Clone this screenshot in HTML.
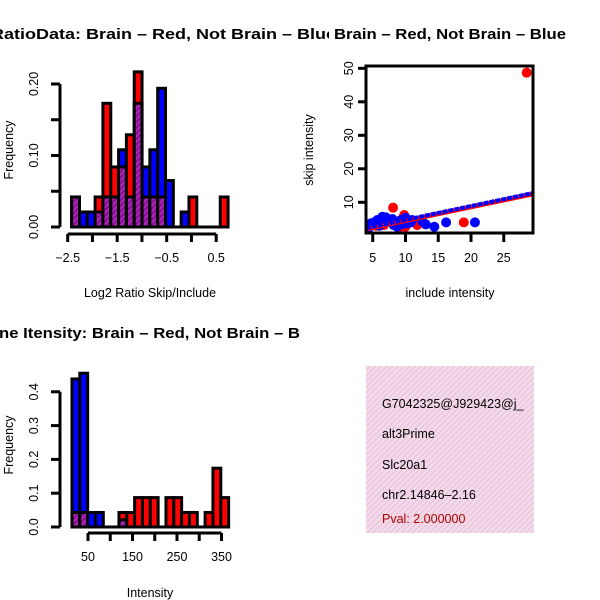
<!DOCTYPE html>
<html><head><meta charset="utf-8"><style>
html,body{margin:0;padding:0;background:#fff;}
svg{display:block;font-family:"Liberation Sans",Arial,sans-serif;}
</style></head><body>
<svg id="s" width="600" height="600" viewBox="0 0 600 600" xmlns="http://www.w3.org/2000/svg">
<defs>
<pattern id="hatch" width="4" height="4" patternUnits="userSpaceOnUse" patternTransform="rotate(45)">
<rect width="4" height="4" fill="#8b10a0"/><rect width="1.5" height="4" fill="#b030b0"/>
</pattern>
<pattern id="pinkhatch" width="4" height="4" patternUnits="userSpaceOnUse" patternTransform="rotate(45)">
<rect width="4" height="4" fill="#f7d6f0"/><rect width="1" height="4" fill="#dcc9c4"/>
</pattern>
<clipPath id="clipL"><rect x="0" y="0" width="329" height="600"/></clipPath>
<clipPath id="clipBox"><rect x="366" y="66" width="167" height="167"/></clipPath>
</defs>
<g id="tl"></g>
<g id="tr"></g>
<g id="bl"></g>
<g>
<rect x="366" y="366" width="168" height="167" fill="url(#pinkhatch)"/>
<g font-size="12.5">
<text x="382" y="408">G7042325@J929423@j_</text>
<text x="382" y="438">alt3Prime</text>
<text x="382" y="469">Slc20a1</text>
<text x="382" y="499">chr2.14846–2.16</text>
<text x="382" y="523" fill="#b00000">Pval: 2.000000</text>
</g>
</g>
</svg>
<script>
// ---- data: ratio histogram (20 bins) ----
const ratioBinStart = -2.42;
const ratioBinWidth = 0.158;
const ratioRed  = [0.042,0,0,0.042,0.173,0.084,0.084,0.129,0.217,0.042,0.042,0.042,0,0,0,0.042,0,0,0,0.042];
const ratioBlue = [0.042,0.021,0.021,0.021,0.042,0.042,0.108,0.042,0.173,0.084,0.108,0.194,0.065,0,0.021,0,0,0,0,0];
const ratioXTicks = [-2.5,-2.0,-1.5,-1.0,-0.5,0.0,0.5];
const ratioXLabels = ["-2.5","","-1.5","","-0.5","","0.5"];
const ratioYTicks = [0,0.05,0.10,0.15,0.20];
const ratioYLabels = ["0.00","","0.10","","0.20"];
// ---- data: intensity histogram (20 bins) ----
const intBinStart = 14;
const intBinWidth = 17.6;
const intRed  = [0.043,0.043,0,0,0,0,0.043,0.043,0.087,0.087,0.087,0,0.087,0.087,0.043,0.043,0,0.043,0.174,0.087];
const intBlue = [0.438,0.455,0.043,0.043,0,0,0.021,0,0,0,0,0,0,0,0,0,0,0,0,0];
const intXTicks = [50,100,150,200,250,300,350];
const intXLabels = ["50","","150","","250","","350"];
const intYTicks = [0,0.1,0.2,0.3,0.4];
const intYLabels = ["0.0","0.1","0.2","0.3","0.4"];
// ---- data: scatter ----
const redX = [28.5,8.1,18.9,11.8,9.8,10.0,6.7,9.0,7.2,5.5];
const redY = [48.7,8.4,4.0,3.2,6.2,2.7,3.2,2.4,5.0,3.0];
const blueX = [20.6,16.2,14.4,13.1,4.7,4.9,6.5,6.5,7.5,8.2,8.7,10.0,10.3,11.0,9.3,5.7,4.4,12.6,6.0,7.0,8.0,9.5,10.8,5.2];
const blueY = [4.0,4.0,2.7,3.4,3.7,3.2,5.7,3.7,4.7,3.2,2.7,5.4,3.7,4.7,4.7,4.7,2.4,4.2,3.0,5.5,5.0,3.5,4.0,4.0];
const lineX = [4.0,29.3];
const lineY = [2.3,12.7];
const scXTicks = [5,10,15,20,25];
const scYTicks = [10,20,30,40,50];

const NS="http://www.w3.org/2000/svg";
function mk(parent,tag,attrs){const e=document.createElementNS(NS,tag);for(const k in attrs)e.setAttribute(k,attrs[k]);parent.appendChild(e);return e;}

function histogram(g, o){
  const sx=v=>o.x0+(v-o.d0)*o.kx, sy=v=>o.y0-v*o.ky;
  for(let i=0;i<o.red.length;i++){
    const a=o.bs+i*o.bw, xl=sx(a), xr=sx(a+o.bw);
    const r=o.red[i], b=o.blue[i], hi=Math.max(r,b), lo=Math.min(r,b);
    if(hi<=0){continue;}
    const col = r>=b ? "#ff0000" : "#0000ff";
    const bar=mk(g,"rect",{x:xl,y:sy(hi),width:xr-xl,height:sy(0)-sy(hi),fill:col,stroke:"#000","stroke-width":3});
    
    
    if(lo>0){
      const ov=mk(g,"rect",{x:xl,y:sy(lo),width:xr-xl,height:sy(0)-sy(lo),fill:"url(#hatch)",stroke:"#000","stroke-width":3});
      
      
    }
  }
  mk(g,"line",{x1:sx(o.bs),x2:sx(o.bs+o.red.length*o.bw),y1:sy(0),y2:sy(0),stroke:"#000","stroke-width":3});
  const xa=mk(g,"g",{});
  
  
  mk(xa,"line",{x1:sx(o.xt[0]),x2:sx(o.xt[o.xt.length-1]),y1:o.axY,y2:o.axY,stroke:"#000","stroke-width":3});
  o.xt.forEach((t,i)=>{
    mk(xa,"line",{x1:sx(t),x2:sx(t),y1:o.axY,y2:o.axY+8,stroke:"#000","stroke-width":3});
    if(o.xl[i]){const tx=mk(xa,"text",{x:sx(t),y:o.axY+28,"text-anchor":"middle","font-size":12.5});tx.textContent=o.xl[i].replace("-","\u2212");}
  });
  const ya=mk(g,"g",{});
  
  
  mk(ya,"line",{x1:o.axX,x2:o.axX,y1:sy(o.yt[0]),y2:sy(o.yt[o.yt.length-1]),stroke:"#000","stroke-width":3});
  o.yt.forEach((t,i)=>{
    mk(ya,"line",{x1:o.axX,x2:o.axX-9,y1:sy(t),y2:sy(t),stroke:"#000","stroke-width":3});
    if(o.yl[i]){const tx=mk(ya,"text",{x:0,y:0,"text-anchor":"middle","font-size":12.5,transform:`translate(${o.axX-22},${sy(t)}) rotate(-90)`});tx.textContent=o.yl[i];}
  });
}

const tl=document.getElementById('tl');
histogram(tl,{x0:67.7,d0:-2.5,kx:49.5,y0:227,ky:715,red:ratioRed,blue:ratioBlue,bs:ratioBinStart,bw:ratioBinWidth,xt:ratioXTicks,xl:ratioXLabels,yt:ratioYTicks,yl:ratioYLabels,axY:234,axX:60});
const bl=document.getElementById('bl');
histogram(bl,{x0:88,d0:50,kx:0.445,y0:527,ky:338,red:intRed,blue:intBlue,bs:intBinStart,bw:intBinWidth,xt:intXTicks,xl:intXLabels,yt:intYTicks,yl:intYLabels,axY:533,axX:60});

const tr=document.getElementById('tr');
const px=v=>340+v*6.55, py=v=>235.8-v*3.35;
const pg=mk(tr,"g",{"clip-path":"url(#clipBox)"});
redX.forEach((x,i)=>{const c=mk(pg,"circle",{cx:px(x),cy:py(redY[i]),r:5,fill:"#ff0000"});
  
  });
blueX.forEach((x,i)=>{const c=mk(pg,"circle",{cx:px(x),cy:py(blueY[i]),r:5,fill:"#0000ff"});
  
  });
const rl=mk(pg,"line",{x1:px(lineX[0]),y1:py(lineY[0])+1,x2:px(lineX[1]),y2:py(lineY[1])+1,stroke:"#ff0000","stroke-width":4.5});


const bln=mk(pg,"line",{x1:px(lineX[0]),y1:py(lineY[0]),x2:px(lineX[1]),y2:py(lineY[1]),stroke:"#0000ff","stroke-width":4,"stroke-dasharray":"5 1"});


const box=mk(tr,"rect",{x:366,y:66,width:167,height:167,fill:"none",stroke:"#000","stroke-width":3});


scXTicks.forEach(t=>{mk(tr,"line",{x1:px(t),x2:px(t),y1:233,y2:242,stroke:"#000","stroke-width":3});
  const tx=mk(tr,"text",{x:px(t),y:262,"text-anchor":"middle","font-size":12.5});tx.textContent=t;});
scYTicks.forEach(t=>{mk(tr,"line",{x1:366,x2:358,y1:py(t),y2:py(t),stroke:"#000","stroke-width":3});
  const tx=mk(tr,"text",{x:0,y:0,"text-anchor":"middle","font-size":12.5,transform:`translate(353,${py(t)}) rotate(-90)`});tx.textContent=t;});
</script>
<svg width="600" height="600" style="position:absolute;left:0;top:0" xmlns="http://www.w3.org/2000/svg">
<g font-weight="bold" font-size="15">
<g clip-path="url(#clipL)"><text x="-9" y="39" textLength="345" lengthAdjust="spacingAndGlyphs">RatioData: Brain – Red, Not Brain – Blue</text></g>
<text x="334" y="39" textLength="232" lengthAdjust="spacingAndGlyphs">Brain – Red, Not Brain – Blue</text>
<text x="-1" y="338" textLength="301" lengthAdjust="spacingAndGlyphs">ne Itensity: Brain – Red, Not Brain – B</text>
</g>
<g font-size="12.5" text-anchor="middle">
<text x="150" y="297">Log2 Ratio Skip/Include</text>
<text transform="translate(13,150) rotate(-90)">Frequency</text>
<text x="450" y="297">include intensity</text>
<text transform="translate(313,150) rotate(-90)">skip intensity</text>
<text x="150" y="597">Intensity</text>
<text transform="translate(13,445) rotate(-90)">Frequency</text>
</g>
</svg>
</body></html>
